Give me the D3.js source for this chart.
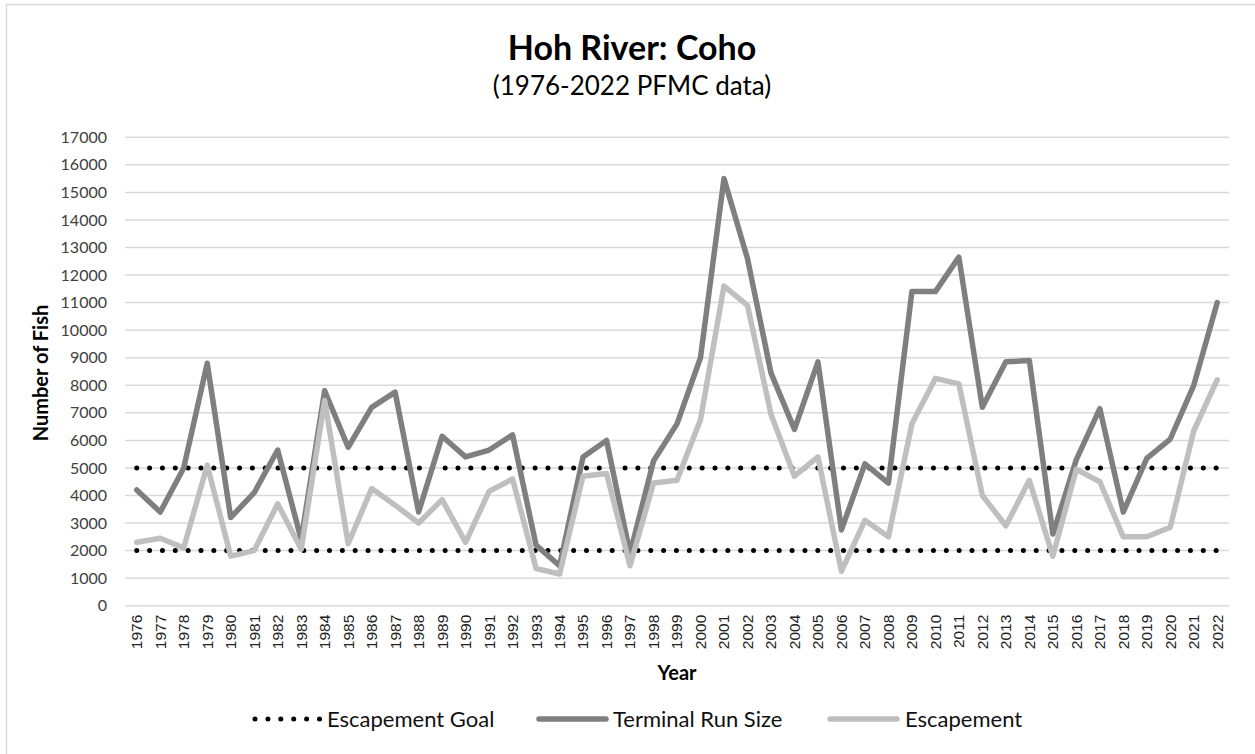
<!DOCTYPE html>
<html>
<head>
<meta charset="utf-8">
<script src="https://cdn.jsdelivr.net/npm/d3@7"></script>
<style>
  body { margin: 0; background: #fff; }
  svg { display: block; }
</style>
</head>
<body>
<div id="chart"></div>
<script>
const years = d3.range(1976, 2023);

const terminalRun = [
  4200, 3400, 5000, 8800, 3200, 4100, 5650, 2400, 7800, 5750,
  7200, 7750, 3400, 6150, 5400, 5650, 6200, 2200, 1450, 5400,
  6000, 1900, 5250, 6600, 9000, 15500, 12600, 8450, 6400, 8850,
  2750, 5150, 4450, 11400, 11400, 12650, 7200, 8850, 8900, 2600,
  5300, 7150, 3400, 5350, 6050, 8000, 11000
];

const escapement = [
  2300, 2450, 2100, 5100, 1800, 2000, 3700, 2050, 7450, 2250,
  4250, 3650, 3000, 3850, 2300, 4150, 4600, 1350, 1150, 4700,
  4800, 1450, 4450, 4550, 6750, 11600, 10900, 6950, 4700, 5400,
  1250, 3100, 2500, 6600, 8250, 8050, 4000, 2900, 4550, 1800,
  4950, 4500, 2500, 2500, 2850, 6350, 8200
];

// escapement goal range (lower / upper)
const goalLow = years.map(() => 2000);
const goalHigh = years.map(() => 5000);

const yTicks = d3.range(0, 17001, 1000);

const legendItems = ["Escapement Goal", "Terminal Run Size", "Escapement"];

const width = 1255;
const height = 754;
const darkGrey = "#7f7f7f";
const lightGrey = "#bfbfbf";
const textColor = "#404040";

const svg = d3.select("#chart")
  .append("svg")
  .attr("width", width)
  .attr("height", height);

// chart frame
svg.append("rect")
  .attr("x", 6.5)
  .attr("y", 4.5)
  .attr("width", 1260)
  .attr("height", 760)
  .attr("fill", "#fff")
  .attr("stroke", "#d9d9d9")
  .attr("stroke-width", 1.5);

const x = d3.scaleBand()
  .domain(years)
  .range([125, 1229])
  .padding(0);

const y = d3.scaleLinear()
  .domain([0, 17000])
  .range([605.7, 137.3]);

const cx = d => x(d) + x.bandwidth() / 2;

// gridlines
svg.append("g")
  .selectAll("line")
  .data(yTicks)
  .join("line")
  .attr("x1", 125)
  .attr("x2", 1229)
  .attr("y1", d => y(d))
  .attr("y2", d => y(d))
  .attr("stroke", "#d9d9d9")
  .attr("stroke-width", 1.5);

// y axis labels
const yAxis = svg.append("g")
  .attr("transform", "translate(125,0)")
  .call(d3.axisLeft(y).tickValues(yTicks).tickSize(0).tickPadding(18).tickFormat(d3.format("d")));
yAxis.select(".domain").remove();
yAxis.selectAll("text")
  .attr("font-family", "Lato, 'Open Sans', sans-serif")
  .attr("font-size", 16)
  .attr("fill", textColor);

// x axis labels
const xAxis = svg.append("g")
  .attr("transform", "translate(0,605.7)")
  .call(d3.axisBottom(x).tickSize(0).tickPadding(0));
xAxis.select(".domain").remove();
xAxis.selectAll("text")
  .attr("font-family", "'Liberation Sans', Arial, sans-serif")
  .attr("font-size", 15.5)
  .attr("fill", "#222")
  .attr("text-anchor", "end")
  .attr("dy", "0.35em")
  .attr("transform", "translate(0,9) rotate(-90)")
  .attr("x", 0)
  .attr("y", 0);

const line = d3.line()
  .x((d, i) => cx(years[i]))
  .y(d => y(d));

// escapement goal (dotted)
[goalLow, goalHigh].forEach(g => {
  svg.append("path")
    .datum(g)
    .attr("d", line)
    .attr("fill", "none")
    .attr("stroke", "#000")
    .attr("stroke-width", 5)
    .attr("stroke-linecap", "round")
    .attr("stroke-dasharray", "0 12.85");
});

svg.append("path")
  .datum(terminalRun)
  .attr("d", line)
  .attr("fill", "none")
  .attr("stroke", darkGrey)
  .attr("stroke-width", 5.5)
  .attr("stroke-linejoin", "round")
  .attr("stroke-linecap", "round");

svg.append("path")
  .datum(escapement)
  .attr("d", line)
  .attr("fill", "none")
  .attr("stroke", lightGrey)
  .attr("stroke-width", 5.5)
  .attr("stroke-linejoin", "round")
  .attr("stroke-linecap", "round");

// titles
svg.append("text")
  .attr("x", 632)
  .attr("y", 60)
  .attr("text-anchor", "middle")
  .attr("font-family", "Lato, sans-serif")
  .attr("font-weight", "bold")
  .attr("font-size", 34)
  .attr("fill", "#000")
  .text("Hoh River: Coho");

svg.append("text")
  .attr("x", 632)
  .attr("y", 95)
  .attr("text-anchor", "middle")
  .attr("font-family", "Lato, sans-serif")
  .attr("font-size", 26)
  .attr("fill", "#000")
  .text("(1976-2022 PFMC data)");

svg.append("text")
  .attr("transform", "translate(48,373) rotate(-90)")
  .attr("text-anchor", "middle")
  .attr("font-family", "Lato, sans-serif")
  .attr("font-weight", "bold")
  .attr("font-size", 20)
  .attr("fill", "#000")
  .text("Number of Fish");

svg.append("text")
  .attr("x", 677)
  .attr("y", 680)
  .attr("text-anchor", "middle")
  .attr("font-family", "Lato, sans-serif")
  .attr("font-weight", "bold")
  .attr("font-size", 20)
  .attr("fill", "#000")
  .text("Year");

// legend
const legendX = [253, 537, 828];
const legend = svg.append("g");
legendItems.forEach((name, i) => {
  const g = legend.append("g").attr("transform", `translate(${legendX[i]},719)`);
  if (i === 0) {
    g.append("line")
      .attr("x1", 2).attr("x2", 68)
      .attr("stroke", "#000")
      .attr("stroke-width", 5)
      .attr("stroke-linecap", "round")
      .attr("stroke-dasharray", "0 12.9");
  } else {
    g.append("line")
      .attr("x1", 2).attr("x2", 69)
      .attr("stroke", i === 1 ? darkGrey : lightGrey)
      .attr("stroke-width", 5.5)
      .attr("stroke-linecap", "round");
  }
  g.append("text")
    .attr("x", i === 0 ? 74 : (i === 1 ? 76 : 77))
    .attr("dy", "0.35em")
    .attr("font-family", "Lato, sans-serif")
    .attr("font-size", 22)
    .attr("fill", "#111")
    .text(name);
});
</script>
</body>
</html>
